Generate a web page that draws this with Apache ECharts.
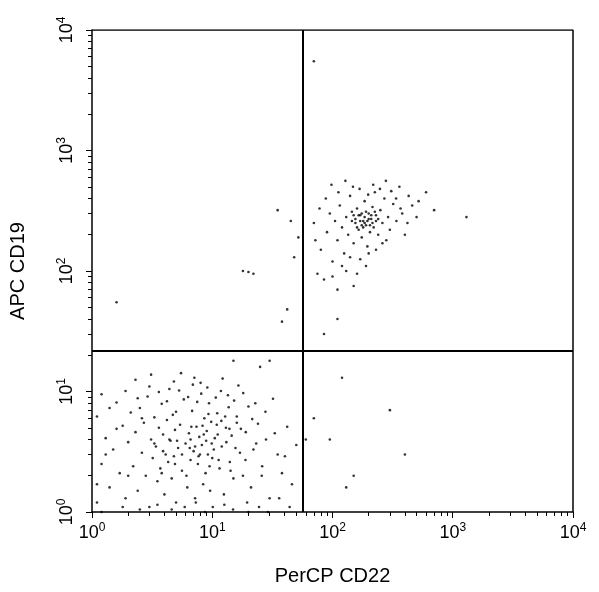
<!DOCTYPE html>
<html><head><meta charset="utf-8">
<script src="https://cdn.jsdelivr.net/npm/echarts@6/dist/echarts.min.js"></script>
<style>html,body{margin:0;padding:0;background:#fff}#c{width:599px;height:592px}</style>
</head><body><div id="c"></div>
<script>
const xTickLabels = ['0','1','2','3','4'];
const yTickLabels = ['0','1','2','3','4'];
const gateX = 57;
const gateY = 21.7;
// Lower-left population (PerCP CD22-, APC CD19-)
const negPop = [
[1.1,1.2],[1.2,2.5],[1.3,4.1],[1.1,6.2],[1.4,1.6],[1.5,3.3],[1.6,8.1],[1.2,9.5],[1.7,2.1],[1.8,5.2],
[1.9,1.3],[2.0,3.8],[2.1,6.7],[2.2,2.4],[2.3,4.6],[2.4,1.5],[2.5,7.3],[2.6,3.1],[2.7,5.5],[2.8,2.0],
[2.9,9.1],[3.0,1.1],[3.1,4.0],[3.2,2.8],[3.3,6.1],[3.4,3.5],[3.5,1.8],[3.6,5.0],[3.7,2.3],[3.8,7.9],
[3.9,4.4],[4.0,1.4],[4.1,3.0],[4.2,5.8],[4.3,2.6],[4.4,10.5],[4.5,3.9],[4.6,1.9],[4.7,6.4],[4.8,2.9],
[4.9,4.8],[5.0,1.2],[5.2,3.4],[5.4,5.3],[5.6,2.2],[5.8,8.6],[6.0,3.7],[6.2,1.6],[6.4,4.5],[6.6,2.7],
[6.8,6.9],[7.0,3.2],[7.2,1.3],[7.4,5.1],[7.6,2.5],[7.8,4.2],[8.0,11.8],[8.2,3.6],[8.4,1.7],[8.6,6.0],
[8.8,2.1],[9.0,4.7],[9.2,3.0],[9.4,8.0],[9.6,1.5],[9.8,5.6],[10,2.8],[10.5,4.1],[11,6.6],[11.5,2.3],
[12,3.5],[12.5,1.4],[13,5.0],[13.5,9.3],[14,2.6],[14.5,4.3],[15,1.9],[16,6.2],[17,3.1],[18,2.0],
[19,4.6],[20,7.5],[21,1.6],[22,3.3],[24,5.4],[26,2.4],[28,4.0],[30,1.3],[32,8.7],[35,3.0],
[38,2.1],[42,5.1],[46,1.7],[50,3.6],[2.3,12.5],[3.1,13.8],[5.5,14.2],[7.1,13.0],[12.2,12.8],[16.5,11.2],
[1.3,3.0],[1.6,4.9],[2.0,2.0],[2.6,6.0],[3.3,3.7],[3.8,2.1],[4.4,4.0],[5.0,6.8],[5.6,3.0],[6.1,2.0],
[6.6,4.0],[7.2,3.5],[7.7,2.9],[8.3,5.2],[8.9,3.9],[9.5,2.4],[10.3,3.3],[11.1,4.4],[11.9,5.7],[13.1,3.8],
[14.2,2.2],[15.6,3.4],[17.3,4.9],[18.9,2.7],[21.5,5.9],[23.2,3.7],[25.8,2.0],[27.7,6.8],[33.1,4.5],[40.2,2.9],
[1.1,1.7],[1.4,7.3],[1.9,10.1],[2.4,8.8],[3.0,11.0],[3.6,9.9],[4.2,8.3],[4.8,12.1],[5.3,10.2],[6.3,9.0],
[6.9,11.4],[7.5,8.2],[8.1,9.6],[9.1,10.8],[10.7,8.9],[11.8,10.1],[13.7,7.4],[15.2,8.4],[18.1,9.7],[22.8,8.0],
[1.2,1.0],[1.8,1.1],[2.5,1.05],[3.5,1.15],[4.6,1.05],[5.9,1.1],[7.3,1.2],[8.7,1.0],[10.1,1.1],[12.6,1.15],
[14.9,1.05],[19.5,1.2],[24.5,1.1],[29.0,1.0],[36.0,1.3],[44.0,1.1],[3.9,3.2],[5.1,3.9],[6.7,5.1],[8.5,4.4],
[9.9,3.7],[10.9,5.3],[7.9,3.0],[6.5,3.4],[4.9,2.5],[9.3,6.5],[12.8,6.2],[11.3,2.7],[13.9,4.9],[16.0,5.5]
];
// Upper-right population (PerCP CD22+, APC CD19+)
const posPop = [
[80,150],[90,210],[95,300],[100,120],[105,260],[110,180],[115,350],[120,230],[125,140],[130,280],
[135,200],[140,420],[145,310],[150,170],[155,250],[160,330],[165,220],[170,290],[175,190],[180,260],
[185,380],[190,240],[195,160],[200,300],[205,210],[210,270],[215,340],[220,230],[225,450],[230,290],
[240,200],[250,320],[260,250],[270,400],[280,180],[290,280],[300,220],[320,360],[340,260],[360,500],
[380,300],[400,200],[430,420],[460,350],[500,280],[75,95],[85,85],[100,90],[130,100],[160,95],
[120,110],[140,130],[170,125],[200,140],[230,150],[260,170],[110,70],[150,75],[190,110],[70,250],
[72,180],[78,330],[88,400],[98,520],[112,450],[128,560],[148,500],[168,480],[198,430],[218,520],
[248,480],[278,560],[308,460],[338,400],[368,330],[420,250],[520,380],[600,450],[700,320],[1300,280],
[155,270],[165,290],[175,240],[185,280],[195,260],[205,240],[175,300],[185,250],[160,230],[210,290],
[145,260],[230,260],[190,310],[200,270],[170,260],[180,230],[215,250],[150,290],[240,270],[225,310]
];
// Scattered events
const otherPop = [
[1.6,55],[18,100],[20,98],[22,95],[38,38],[42,48],[48,130],[52,190],[45,260],[35,320],
[20,1.0],[70,6],[95,4],[150,2],[300,7],[120,13],[85,30],[110,40],[130,1.6],[400,3],
[70,5500],[25,16],[30,18],[15,18],[60,4]
];
const all = negPop.concat(posPop, otherPop);

function lbl(e){ return '{b|10}{s|' + e + '}'; }
const rich = {b:{fontSize:18,fontFamily:'Liberation Sans',color:'#000'},s:{fontSize:12,fontFamily:'Liberation Sans',color:'#000',verticalAlign:'top',padding:[0,0,10,0]}};
const chart = echarts.init(document.getElementById('c'));
chart.setOption({
  animation:false,
  grid:{left:90,right:26,top:30,bottom:80},
  xAxis:{type:'log',min:1,max:10000,logBase:10,name:'PerCP CD22',nameLocation:'middle',nameGap:54,
    nameTextStyle:{fontSize:20,fontFamily:'Liberation Sans',color:'#000'},
    axisLine:{lineStyle:{color:'#000',width:1.5}},
    axisTick:{inside:false,length:6,lineStyle:{color:'#000'}},
    minorTick:{show:true,splitNumber:9,length:4,lineStyle:{color:'#000'}},
    axisLabel:{formatter:v=>lbl(xTickLabels[Math.round(Math.log10(v))]),rich:rich,margin:10},
    splitLine:{show:false}},
  yAxis:{type:'log',min:1,max:10000,logBase:10,name:'APC CD19',nameLocation:'middle',nameGap:64,
    nameTextStyle:{fontSize:20,fontFamily:'Liberation Sans',color:'#000'},
    axisLine:{lineStyle:{color:'#000',width:1.5}},
    axisTick:{inside:false,length:6,lineStyle:{color:'#000'}},
    minorTick:{show:true,splitNumber:9,length:4,lineStyle:{color:'#000'}},
    axisLabel:{formatter:v=>lbl(yTickLabels[Math.round(Math.log10(v))]),rich:rich,rotate:90,margin:14},
    splitLine:{show:false}},
  series:[{type:'scatter',data:all,symbolSize:2.6,itemStyle:{color:'#000'},
    markLine:{silent:true,symbol:'none',label:{show:false},lineStyle:{color:'#000',width:2,type:'solid'},
      data:[{xAxis:gateX},{yAxis:gateY}]}},
    {type:'line',data:[[1,10000],[10000,10000],[10000,1]],symbol:'none',lineStyle:{color:'#000',width:1.5},silent:true}]
});
</script></body></html>
